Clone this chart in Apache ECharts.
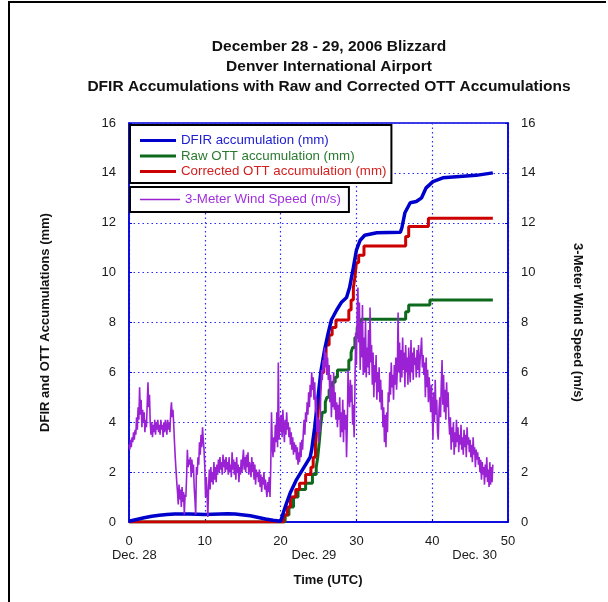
<!DOCTYPE html>
<html><head><meta charset="utf-8">
<script src="https://cdn.jsdelivr.net/npm/echarts@6/dist/echarts.min.js"></script>
<style>html,body{margin:0;padding:0;background:#fff}#c{width:608px;height:602px}</style>
</head><body><div id="c"></div>
<script>
// ---------------- data ----------------
const titleLines = ['December 28 - 29, 2006 Blizzard', 'Denver International Airport', 'DFIR Accumulations with Raw and Corrected OTT Accumulations'];
const xTicks = [0, 10, 20, 30, 40, 50];
const yTicks = [0, 2, 4, 6, 8, 10, 12, 14, 16];
const dayLabels = ['Dec. 28', 'Dec. 29', 'Dec. 30'];
const dayLabelHours = [0.7, 24.4, 45.6];
const seriesNames = ['DFIR accumulation (mm)', 'Raw OTT accumulation (mm)', 'Corrected OTT accumulation (mm)', '3-Meter Wind Speed (m/s)'];

const dfirHours = [0,1,2,3,4,5,6,8,10,12,13,14,16,18,19,20,20.2,20.6,21.25,22.1,23.0,23.9,24.1,24.5,24.9,25.3,25.8,26.3,26.7,27.4,28.0,28.7,29.1,29.6,30.0,30.5,31.1,32.7,35.8,36.0,36.4,37.1,37.9,38.6,39.2,40.1,41.4,43.6,45.8,48.0];
const dfirMm    = [0.03,0.1,0.17,0.23,0.27,0.3,0.32,0.32,0.3,0.32,0.33,0.32,0.25,0.12,0.07,0.03,0.05,0.6,1.15,1.7,2.15,2.6,2.9,3.8,4.9,6.0,6.9,7.6,8.1,8.5,8.8,9.0,9.4,10.2,10.9,11.3,11.5,11.6,11.62,11.8,12.4,12.8,12.85,13.0,13.4,13.65,13.8,13.85,13.9,14.0];

const rawOttHours = [0,20.6,21.1,21.7,22.3,23.3,24.2,24.7,24.9,25.1,25.3,25.5,25.9,26.1,26.4,26.8,27.2,27.5,29.0,29.3,29.5,29.8,30.1,30.6,36.5,36.9,39.7,48.0];
const rawOttMm    = [0,0.28,0.6,1.0,1.3,1.55,1.9,2.2,2.6,3.2,3.9,4.4,4.8,5.0,5.3,5.6,5.8,6.1,6.5,6.8,7.0,7.4,7.8,8.13,8.43,8.7,8.9,8.9];

const corrOttHours = [0,20.4,20.9,21.3,22.0,22.5,23.3,24.0,24.3,24.6,24.8,25.0,25.2,25.4,25.7,26.0,26.4,26.8,27.3,29.0,29.3,29.6,29.8,30.0,30.3,31.0,36.5,36.9,39.5,48.0];
const corrOttMm    = [0,0.28,0.6,1.0,1.3,1.55,1.9,2.2,2.6,3.1,3.9,4.6,5.3,6.0,6.4,7.1,7.5,7.8,8.1,8.5,8.9,9.4,9.8,10.4,10.7,11.07,11.45,11.85,12.18,12.18];

const windStartHour = 0;
const windStepHours = 0.1;
const windSpeed = [
3.1,2.9,3.3,3.0,3.4,3.2,3.6,3.3,3.7,3.5,
4.2,3.7,4.6,4.1,5.4,4.3,4.9,3.8,4.5,4.0,
4.4,3.6,4.1,3.8,4.7,5.6,4.6,5.1,4.0,3.5,
4.0,3.4,3.9,3.6,4.1,3.5,4.0,3.7,4.1,3.6,
3.9,3.5,4.1,3.7,3.9,3.4,4.0,3.6,4.1,3.8,
3.5,4.1,3.7,4.0,3.6,4.4,4.8,4.2,4.5,3.9,
3.2,2.6,2.1,1.6,1.2,0.7,1.5,0.9,1.3,0.6,
1.4,0.8,1.2,0.3,1.1,1.0,1.8,2.9,2.2,2.5,
2.3,2.6,1.8,2.5,2.0,2.3,1.4,0.9,0.3,2.2,
1.9,2.6,2.3,3.2,2.7,3.5,3.0,3.8,3.3,2.9,
2.2,1.0,1.8,1.1,0.2,1.4,2.1,1.3,2.2,1.6,
2.0,1.5,2.4,1.7,2.2,1.6,2.3,1.9,2.5,2.0,
2.6,2.1,2.4,1.9,2.7,2.2,2.5,2.0,2.6,2.1,
2.4,1.9,2.6,2.0,2.3,1.8,2.8,2.1,2.5,1.9,
2.4,1.7,2.6,2.0,2.3,1.6,2.2,1.9,2.5,2.0,
2.5,2.9,2.1,2.6,2.0,2.7,2.2,2.8,1.9,2.4,
2.2,1.8,2.6,2.0,2.4,1.7,2.3,1.5,2.1,1.8,
2.0,1.6,2.1,1.4,1.9,1.2,1.8,1.5,2.0,1.3,
1.7,1.3,1.0,1.6,1.2,1.8,1.0,2.2,4.4,3.1,
2.6,3.4,2.8,3.9,3.2,4.4,3.0,6.4,3.3,4.2,
3.6,4.3,3.4,4.5,3.8,3.2,4.1,3.5,4.4,3.7,
4.0,3.4,3.8,3.1,3.6,2.9,3.4,2.7,3.2,2.8,
3.1,2.5,3.0,2.3,2.8,2.4,3.2,2.6,3.3,2.9,
3.6,4.1,3.5,4.4,4.0,4.8,4.3,5.2,4.6,5.5,
5.0,6.0,5.3,5.8,4.9,5.6,4.4,5.0,3.6,4.2,
3.2,4.1,3.6,5.2,6.1,5.7,6.5,6.0,7.0,6.2,
6.8,5.9,6.6,5.7,6.3,4.8,5.9,4.2,5.4,4.6,
6.0,4.5,5.2,4.1,4.8,3.8,4.7,4.1,5.0,3.4,
4.4,3.6,4.9,3.2,4.5,3.7,4.3,2.6,3.9,6.1,
5.0,4.6,5.7,4.8,5.5,3.9,4.7,3.4,5.2,7.6,
6.3,8.4,9.4,7.2,8.8,6.1,8.0,6.6,8.7,5.9,
7.4,6.0,8.1,5.8,7.0,6.2,7.7,5.9,8.6,6.4,
7.1,5.5,6.8,5.0,6.3,5.6,6.7,4.9,6.0,5.2,
6.2,4.8,5.7,4.5,5.3,3.8,4.6,3.2,4.3,3.0,
4.4,3.6,5.2,4.8,6.0,5.1,6.4,5.4,5.9,4.9,
6.3,5.5,6.6,5.3,6.1,8.4,6.0,7.2,5.6,6.9,
5.8,7.4,6.1,6.8,5.4,7.1,6.0,6.6,5.5,7.0,
6.2,5.6,7.3,6.0,6.8,5.7,7.0,6.3,6.6,5.8,
6.9,6.1,7.1,5.8,6.5,6.9,7.4,6.2,6.7,5.9,
6.4,5.0,6.6,5.4,6.1,4.8,5.8,5.2,4.4,5.5,
4.6,3.3,5.2,4.0,5.7,4.3,4.9,3.6,3.3,4.5,
5.0,4.2,5.6,6.5,4.7,5.9,4.4,5.3,4.1,5.6,
4.6,5.2,4.1,3.5,4.2,2.9,3.8,3.2,4.0,2.7,
3.6,3.0,4.1,3.2,3.8,2.8,3.5,3.1,3.9,2.9,
3.4,2.7,3.7,3.0,3.5,2.6,3.8,3.1,3.4,2.8,
3.3,2.6,3.1,2.4,3.4,2.7,3.0,2.2,2.9,2.5,
2.8,2.3,2.6,2.0,2.5,1.7,2.4,1.9,2.2,1.5,
2.3,1.8,2.6,1.6,2.1,1.4,2.4,1.5,2.2,1.6,
2.3
];

// ---------------- chart ----------------
const FONT = '"Liberation Sans", Arial, Helvetica, sans-serif';
const AXIS_BLUE = '#0000dd';
const GRID_BLUE = '#2a2aff';
const C_BLUE = '#0000cc', C_GREEN = '#0d6a1c', C_RED = '#cc0000', C_PURPLE = '#9a22d4';

function pairs(xs, ys) { return xs.map((x, i) => [x, ys[i]]); }
const windData = windSpeed.map((v, i) => [+(windStartHour + i * windStepHours).toFixed(2), v]);

function yAxisCfg(pos, name, showSplit) {
  return {
    type: 'value', position: pos,
    min: yTicks[0], max: yTicks[yTicks.length - 1], interval: yTicks[1] - yTicks[0],
    name: name, nameLocation: 'middle',
    nameRotate: pos === 'left' ? 90 : -90,
    nameGap: pos === 'left' ? 77 : 63,
    nameTextStyle: { fontFamily: FONT, fontSize: 13, fontWeight: 'bold', color: '#111' },
    axisLine: { show: true, lineStyle: { color: AXIS_BLUE, width: 1.5 } },
    axisTick: { show: true, inside: true, length: 3, lineStyle: { color: AXIS_BLUE } },
    axisLabel: { show: true, margin: 13, fontFamily: FONT, fontSize: 13, color: '#1a1a1a' },
    splitLine: { show: showSplit, lineStyle: { color: GRID_BLUE, type: [1.5, 3], width: 1.2 } }
  };
}

function lineSeries(name, data, color, width, yIdx, step) {
  const s = {
    name: name, type: 'line', data: data, yAxisIndex: yIdx,
    showSymbol: false, symbol: 'none',
    itemStyle: { color: color }, lineStyle: { color: color, width: width },
    emphasis: { disabled: true }, silent: true
  };
  if (step) s.step = 'end';
  return s;
}

const chart = echarts.init(document.getElementById('c'), null, { renderer: 'canvas', width: 608, height: 602 });

const baseGraphic = [
  { id: 'frame', type: 'polyline', silent: true, shape: { points: [[9, 602], [9, 2], [606, 2]] }, style: { stroke: '#000', lineWidth: 2, fill: null } }
].concat(titleLines.map((t, i) => ({
  id: 'title' + i, type: 'text', silent: true, x: 329, y: 47 + i * 20,
  style: { text: t, fill: '#111', font: 'bold 15.5px ' + FONT, align: 'center', verticalAlign: 'middle', textAlign: 'center', textVerticalAlign: 'middle' }
})));

const option = {
  animation: false,
  backgroundColor: '#ffffff',
  textStyle: { fontFamily: FONT },
  grid: { left: 129, right: 100, top: 123, bottom: 80, containLabel: false, outerBoundsMode: 'none',
          show: true, borderColor: AXIS_BLUE, borderWidth: 1.5, backgroundColor: 'transparent' },
  xAxis: {
    type: 'value', min: xTicks[0], max: xTicks[xTicks.length - 1], interval: xTicks[1] - xTicks[0],
    name: 'Time (UTC)', nameLocation: 'middle', nameGap: 52,
    nameTextStyle: { fontFamily: FONT, fontSize: 13, fontWeight: 'bold', color: '#111', padding: [0, 0, 0, 19] },
    axisLine: { show: true, onZero: false, lineStyle: { color: AXIS_BLUE, width: 1.5 } },
    axisTick: { show: true, inside: true, length: 3, lineStyle: { color: AXIS_BLUE } },
    axisLabel: { show: true, margin: 13, fontFamily: FONT, fontSize: 13, color: '#1a1a1a' },
    splitLine: { show: true, lineStyle: { color: GRID_BLUE, type: [1.5, 3], width: 1.2 } }
  },
  yAxis: [
    yAxisCfg('left', 'DFIR and OTT Accumulations (mm)', true),
    yAxisCfg('right', '3-Meter Wind Speed (m/s)', false)
  ],
  legend: [
    {
      orient: 'vertical', left: 130, top: 125, padding: [8, 5, 4, 10], itemGap: 0.5,
      itemWidth: 36, itemHeight: 3, icon: 'rect', selectedMode: false,
      borderColor: '#000', borderWidth: 2, backgroundColor: '#fff', borderRadius: 0,
      textStyle: { fontFamily: FONT, fontSize: 13.3, lineHeight: 15 },
      data: [
        { name: seriesNames[0], textStyle: { color: '#2020d0' } },
        { name: seriesNames[1], textStyle: { color: '#2a7a30' } },
        { name: seriesNames[2], textStyle: { color: '#d42020' } }
      ]
    },
    {
      orient: 'vertical', left: 130, top: 187, padding: [5, 8, 5, 10], itemGap: 0,
      itemWidth: 40, itemHeight: 1.5, icon: 'rect', selectedMode: false,
      borderColor: '#000', borderWidth: 2, backgroundColor: '#fff', borderRadius: 0,
      textStyle: { fontFamily: FONT, fontSize: 13.3, lineHeight: 15 },
      data: [ { name: seriesNames[3], textStyle: { color: '#a030dd' } } ]
    }
  ],
  series: [
    lineSeries(seriesNames[1], pairs(rawOttHours, rawOttMm), C_GREEN, 3, 0, true),
    lineSeries(seriesNames[2], pairs(corrOttHours, corrOttMm), C_RED, 3, 0, true),
    lineSeries(seriesNames[0], pairs(dfirHours, dfirMm), C_BLUE, 3.5, 0, false),
    lineSeries(seriesNames[3], windData, C_PURPLE, 1.6, 1, false)
  ],
  graphic: baseGraphic
};
chart.setOption(option);

// Day labels placed under the axis through the x scale
const dayGraphic = dayLabels.map((t, i) => ({
  id: 'day' + i, type: 'text', silent: true,
  x: chart.convertToPixel({ xAxisIndex: 0 }, dayLabelHours[i]), y: 555,
  style: { text: t, fill: '#1a1a1a', font: '13px ' + FONT, align: 'center', verticalAlign: 'middle', textAlign: 'center', textVerticalAlign: 'middle' }
}));
chart.setOption({ graphic: baseGraphic.concat(dayGraphic) });
</script>
</body></html>
